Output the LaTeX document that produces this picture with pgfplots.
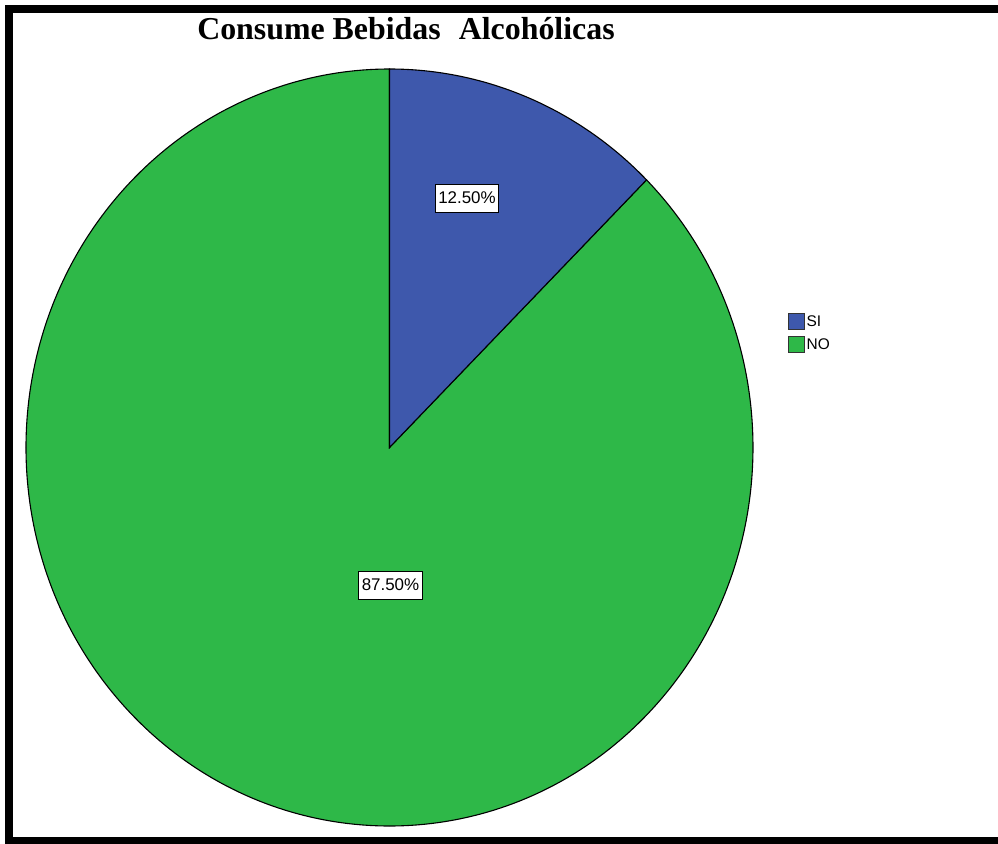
\documentclass[border=0pt]{standalone}
\usepackage{fontspec}
\setmainfont{Liberation Serif}
\newfontfamily\arial{Liberation Sans}
\usepackage{pgfplots}
\usepackage{pgfplotstable}
\pgfplotsset{compat=1.18}
\definecolor{siblue}{RGB}{62,88,172}
\definecolor{nogreen}{RGB}{46,184,72}
\pgfplotstableread{
cat value
SI 12.5
NO 87.5
}\piedata
\pgfplotstablegetelem{0}{value}\of\piedata \let\valSI\pgfplotsretval
\pgfplotstablegetelem{1}{value}\of\piedata \let\valNO\pgfplotsretval
\pgfmathsetmacro\angA{90}
\pgfmathsetmacro\angB{90-3.6*\valSI}
\pgfmathsetmacro\angC{\angB-3.6*\valNO}
\begin{document}
\begin{tikzpicture}
\begin{axis}[
  at={(0,0)}, anchor=south west,
  width=998bp, height=844bp, scale only axis, hide axis,
  xmin=0, xmax=998, ymin=0, ymax=844, y dir=reverse, clip=false,
  legend style={at={(axis cs:788,313)}, anchor=north west, draw=none, fill=none,
    font=\arial\fontsize{15.5}{17}\selectfont, inner sep=0pt, row sep=6bp,
    cells={anchor=west}, nodes={inner sep=1.5bp}},
  legend image code/.code={\draw[#1,draw=black!80,line width=1bp] (0bp,-8bp) rectangle (16bp,8bp);},
]
\fill[white] (axis cs:0,0) rectangle (axis cs:998,844);
\filldraw[fill=nogreen, draw=black, line width=1.1bp] (axis cs:389.5,447.5) -- ++(\angB:363.5bp and 378.5bp)
  arc[start angle=\angB, end angle=\angC, x radius=363.5bp, y radius=378.5bp] -- cycle;
\filldraw[fill=siblue, draw=black, line width=1.1bp] (axis cs:389.5,447.5) -- ++(\angA:363.5bp and 378.5bp)
  arc[start angle=\angA, end angle=\angB, x radius=363.5bp, y radius=378.5bp] -- cycle;
\node[draw=black, fill=white, line width=1bp, font=\arial\fontsize{17}{20}\selectfont,
  inner xsep=3bp, inner ysep=0pt, minimum height=28bp] at (axis cs:467,198) {12.50\%};
\node[draw=black, fill=white, line width=1bp, font=\arial\fontsize{17}{20}\selectfont,
  inner xsep=3bp, inner ysep=0pt, minimum height=28bp] at (axis cs:390.5,585) {87.50\%};
\node[anchor=base, font=\bfseries\fontsize{32}{36}\selectfont, inner sep=0pt] at (axis cs:406,40)
  {Consume Bebidas\hspace{18bp}Alcohólicas};
\fill[black] (axis cs:5,5) rectangle (axis cs:998,13);
\fill[black] (axis cs:5,5) rectangle (axis cs:13,844);
\fill[black] (axis cs:5,837) rectangle (axis cs:998,844);
\addlegendimage{fill=siblue}
\addlegendentry{SI}
\addlegendimage{fill=nogreen}
\addlegendentry{NO}
\end{axis}
\pgfresetboundingbox
\path[use as bounding box] (0,0) rectangle (998bp,844bp);
\end{tikzpicture}
\end{document}
